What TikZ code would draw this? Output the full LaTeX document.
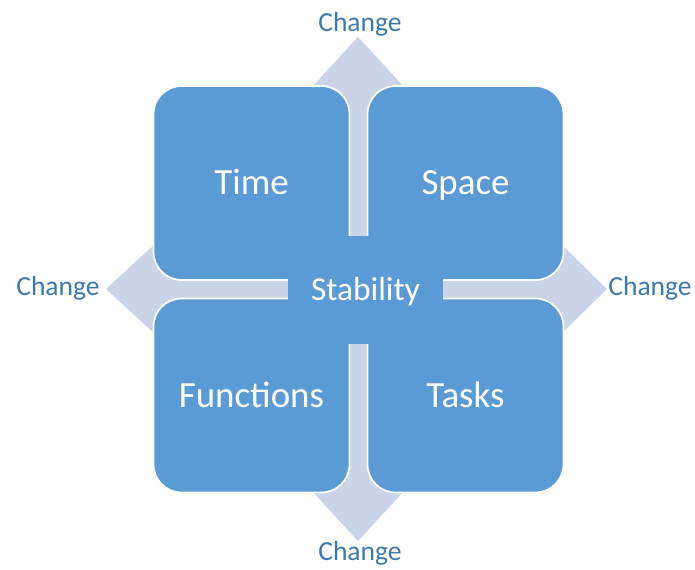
\documentclass[tikz,border=0pt]{standalone}
\usepackage{fontspec}
\setmainfont{Carlito}
\usepackage{xcolor}
\usetikzlibrary{positioning}
\definecolor{boxblue}{HTML}{5B9BD5}
\definecolor{crosslight}{HTML}{C9D4E9}
\definecolor{changeblue}{HTML}{3D79B1}
\tikzset{
  tile/.style={draw=white, line width=1pt, fill=boxblue, rounded corners=0.56cm,
    minimum width=3.92cm, minimum height=3.88cm, text=white, text height=13.5pt, text depth=0pt,
    font=\fontsize{21}{24}\selectfont},
  hub/.style={fill=boxblue, rounded corners=0.3cm, minimum width=3.1cm, minimum height=2.16cm,
    text=white, text height=12.2pt, text depth=0pt, font=\fontsize{19}{22}\selectfont},
  change/.style={text=changeblue, font=\fontsize{15.7}{18}\selectfont}
}
\begin{document}
\begin{tikzpicture}[x=0.02cm,y=-0.02cm]
\useasboundingbox (0,0) rectangle (695,570);
% four-way arrow behind the tiles
\fill [crosslight] (358,37) -- (405,88) -- (398,88) -- (398,249) -- (559,249) -- (559,242) -- (607,289)
  -- (559,336) -- (559,329) -- (398,329) -- (398,490) -- (405,490) -- (358,541) -- (311,490)
  -- (318,490) -- (318,329) -- (157,329) -- (157,336) -- (106,289) -- (157,242) -- (157,249)
  -- (318,249) -- (318,88) -- (311,88) -- cycle;
\node [tile] (time) at (251.5,183) {Time};
\node [tile] (space) at (465.5,183) {Space};
\node [tile] (functions) at (251.5,395.5) {Functions};
\node [tile] (tasks) at (465.5,395.5) {Tasks};
\node [hub] (stability) at (365.5,290) {Stability};
\node [change] (top) at (360,24) {Change};
\node [change] (left) at (58,288) {Change};
\node [change] (right) at (650,288) {Change};
\node [change] (bottom) at (360,553) {Change};
\end{tikzpicture}
\end{document}
